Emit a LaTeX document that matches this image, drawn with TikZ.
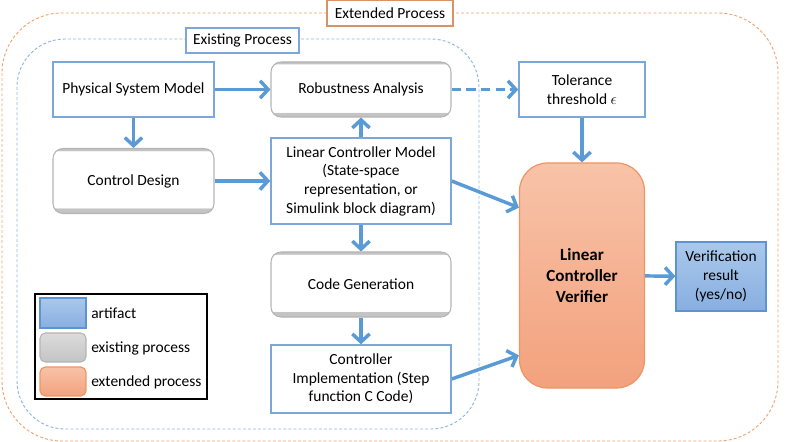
\documentclass[tikz,border=0pt]{standalone}
\usepackage{fontspec}
\setmainfont{Carlito}
\usepackage{xcolor}
\usepackage{tikz}
\usetikzlibrary{arrows.meta,calc}
\definecolor{FlowBlue}{HTML}{5B9BD5}
\definecolor{ArtLine}{HTML}{7BA7DA}
\definecolor{ResTop}{HTML}{A9C8EB}
\definecolor{ResBot}{HTML}{88AFE0}
\definecolor{ResLine}{HTML}{5E93D2}
\definecolor{VerTop}{HTML}{F8C3A8}
\definecolor{VerBot}{HTML}{F3A17D}
\definecolor{VerLine}{HTML}{EE9563}
\definecolor{ProcGray}{HTML}{C4C4C4}
\definecolor{ProcLine}{HTML}{B4B4B4}
\definecolor{ExtDash}{HTML}{F0A26E}
\definecolor{ExiDash}{HTML}{8DB6E2}
\pgfdeclareverticalshading{procband}{100bp}{color(0bp)=(ProcGray); color(29bp)=(ProcGray); color(29.5bp)=(white); color(73bp)=(white); color(73.5bp)=(ProcGray); color(100bp)=(ProcGray)}
\tikzset{
  wh/.style 2 args={minimum width=#1*0.75pt,minimum height=#2*0.75pt},
  txt/.style={font=\fontsize{11.6}{14}\selectfont,align=center,inner sep=1pt},
  artifact/.style={txt,draw=ArtLine,line width=1.1pt,fill=white},
  process/.style={txt,draw=ProcLine,line width=0.8pt,rounded corners=7.5pt,shading=procband},
  extproc/.style={draw=VerLine,line width=0.9pt,top color=VerTop,bottom color=VerBot},
  result/.style={draw=ResLine,line width=0.9pt,top color=ResTop,bottom color=ResBot},
  tag/.style={txt,fill=white,line width=1.1pt,inner sep=3pt},
  flow/.style={draw=FlowBlue,line width=2.6pt,-{Straight Barb[length=6pt,width=13pt]}},
  dashflow/.style={flow,dash pattern=on 7pt off 4pt},
  legtxt/.style={font=\fontsize{11.6}{14}\selectfont,anchor=west,inner sep=0pt}
}

\begin{document}
\begin{tikzpicture}[x=0.75pt,y=-0.75pt]
\path[use as bounding box] (0,0) rectangle (786,442);
% process frames
\draw[ExtDash,line width=0.7pt,dash pattern=on 2.2pt off 1.6pt,rounded corners=45pt] (2,13) rectangle (778,441);
\draw[ExiDash,line width=0.7pt,dash pattern=on 2.2pt off 1.6pt,rounded corners=36pt] (17,39) rectangle (479,429);
\node[tag,draw=ExtDash!90!black,wh={126}{26}] (exttag) at (390,13) {Extended Process};
\node[tag,draw=ArtLine,wh={113}{25}] (exitag) at (242.5,40.5) {Existing Process};
% boxes
\node[artifact,wh={161}{55}] (psm) at (133.5,89.5) {Physical System Model};
\node[process,wh={180}{55}] (rob) at (361,89.5) {Robustness Analysis};
\node[process,wh={161}{65}] (cd) at (133.5,181) {Control Design};
\node[artifact,wh={180}{86}] (lcm) at (361,181) {Linear Controller Model\\(State-space\\representation, or\\Simulink block diagram)};
\node[process,wh={180}{65}] (cg) at (361,284.5) {Code Generation};
\node[artifact,wh={180}{68}] (ci) at (361,379) {Controller\\Implementation (Step\\function C Code)};
\node[artifact,wh={126}{55}] (tol) at (582,89.5) {Tolerance\\threshold $\epsilon$};
\node[extproc,txt,rounded corners=21pt,wh={125}{225},font=\fontsize{12.8}{15.5}\selectfont\bfseries] (ver) at (582,275.5) {Linear\\Controller\\Verifier};
\node[result,txt,wh={90}{69}] (res) at (721,276.5) {Verification\\result\\(yes/no)};
% connectors
\draw[flow] (psm) -- (rob);
\draw[flow] (psm) -- (cd);
\draw[flow] (cd) -- (lcm);
\draw[flow] (lcm) -- (rob);
\draw[flow] (lcm) -- (cg);
\draw[flow] (cg) -- (ci);
\draw[dashflow] (rob) -- (tol);
\draw[flow] (tol) -- (ver);
\draw[flow] (lcm.east) -- ($(ver.north west)!.2!(ver.south west)$);
\draw[flow] (ci.east) -- ($(ver.north west)!.853!(ver.south west)$);
\draw[flow] (ver) -- (res);
% legend
\draw[black,line width=0.9pt] (35,294) rectangle (207,399);
\node[result,wh={46}{30},inner sep=0pt] (swart) at (63,313) {};
\node[draw=ProcLine,line width=0.8pt,rounded corners=4pt,top color=ProcGray!60,bottom color=ProcGray,wh={46}{29},inner sep=0pt] (swexi) at (63,347.5) {};
\node[extproc,rounded corners=4pt,wh={46}{29},inner sep=0pt] (swext) at (63,381.5) {};
\node[legtxt] (lgart) at (91,313) {artifact};
\node[legtxt] (lgexi) at (91,348) {existing process};
\node[legtxt] (lgext) at (91,382) {extended process};
\end{tikzpicture}
\end{document}
